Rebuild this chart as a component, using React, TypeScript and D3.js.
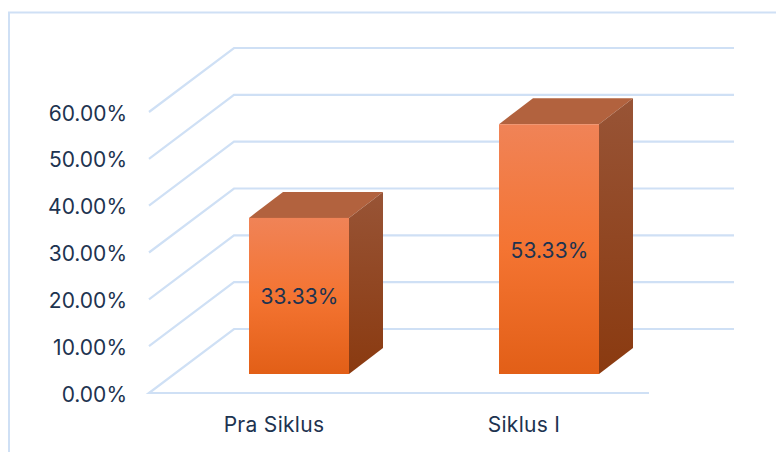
import React from "react";
import * as d3 from "d3";

const categories = ["Pra Siklus", "Siklus I"];
const values = [33.33, 53.33];
const valueLabels = ["33.33%", "53.33%"];
const ticks = [0, 10, 20, 30, 40, 50, 60];

const W = 776, H = 452;
const x = d3.scaleBand<string>().domain(categories).range([149, 649]);
const y = d3.scaleLinear().domain([0, 60]).range([393, 112]);
const DX = 85, DY = 64;
const gridEnd = 734;
const barFrac = 0.4;
const FONT = "Inter, 'Noto Sans', sans-serif";
const GRID = "#cfe0f5";
const TEXT = "#1d3350";
const line = d3.line();

export default function App() {
  const bw = x.bandwidth() * barFrac;
  return (
    <svg width={W} height={H} style={{ position: "absolute", left: 0, top: 0, background: "#fff" }} fontFamily={FONT}>
      <defs>
        <linearGradient id="front" x1="0" y1="0" x2="0" y2="1">
          <stop offset="0" stopColor="#f08357" />
          <stop offset="0.5" stopColor="#f47432" />
          <stop offset="1" stopColor="#e25f17" />
        </linearGradient>
        <linearGradient id="side" x1="0" y1="0" x2="0" y2="1">
          <stop offset="0" stopColor="#985436" />
          <stop offset="1" stopColor="#8a3a10" />
        </linearGradient>
      </defs>
      <path d="M9 452V12.5H776" fill="none" stroke={GRID} strokeWidth={2} />
      {ticks.map((t) => (
        <g key={t}>
          <path
            d={line(t === 0
              ? [[649, y(0)], [149, y(0)], [149 + DX, y(0) - DY], [gridEnd, y(0) - DY]]
              : [[149, y(t)], [149 + DX, y(t) - DY], [gridEnd, y(t) - DY]]) as string}
            fill="none" stroke={GRID} strokeWidth={2.2}
          />
          <text x={127} y={y(t) + 8.5} textAnchor="end" fontSize={21} fill={TEXT}>
            {t.toFixed(2)}%
          </text>
        </g>
      ))}
      {categories.map((c, i) => {
        const cx = (x(c) as number) + x.bandwidth() / 2;
        const ox = 25, oy = 19, dx = 34, dy = 26;
        const l = cx + ox - bw / 2, r = l + bw;
        const b = y(0) - oy, t = y(values[i]) - oy;
        return (
          <g key={c}>
            <path d={line([[l, t], [l + dx, t - dy], [r + dx, t - dy], [r, t]]) + "Z"} fill="#b2623e" />
            <path d={line([[r, t], [r + dx, t - dy], [r + dx, b - dy], [r, b]]) + "Z"} fill="url(#side)" />
            <rect x={l} y={t} width={bw} height={b - t} fill="url(#front)" />
            <text x={l + bw / 2 + 0.5} y={(t + b) / 2 + 8.5} textAnchor="middle" fontSize={21} letterSpacing={0.1} fill={TEXT}>
              {valueLabels[i]}
            </text>
            <text x={cx} y={432} textAnchor="middle" fontSize={21} letterSpacing={0.3} fill={TEXT}>{c}</text>
          </g>
        );
      })}
    </svg>
  );
}
